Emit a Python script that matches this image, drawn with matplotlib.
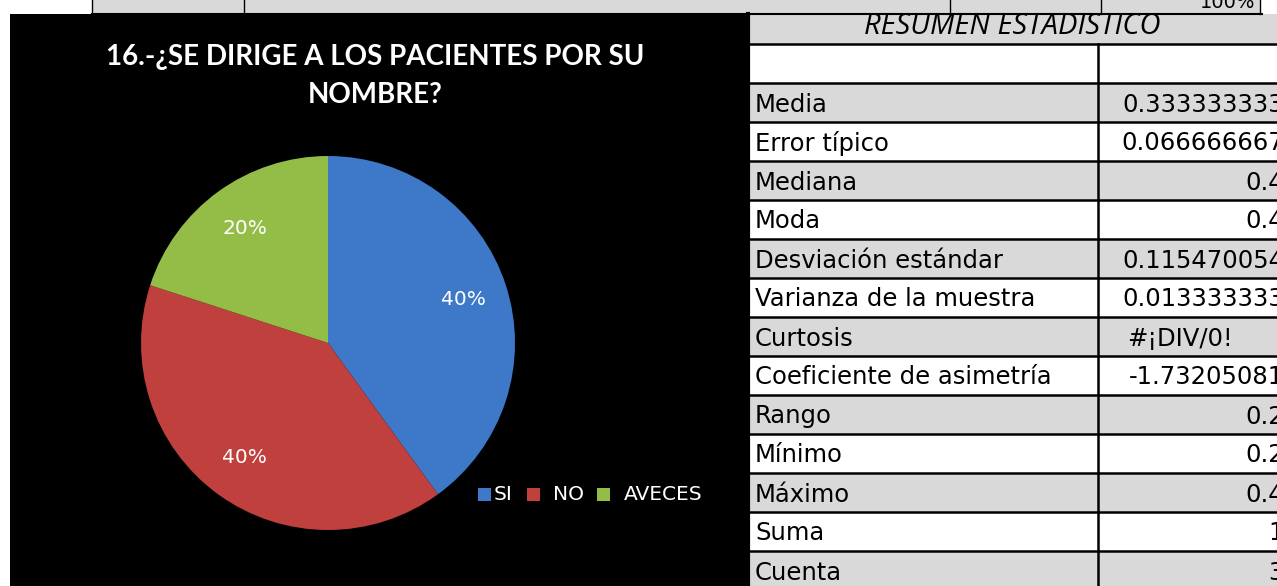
import numpy as np
import matplotlib
matplotlib.use("Agg")
import matplotlib.pyplot as plt
from matplotlib.patches import Rectangle

# data
categorias = ["SI", "NO", "AVECES"]
porcentajes = [40, 40, 20]
colores = ["#3d79c8", "#c0403d", "#93bd47"]

titulo = "16.-¿SE DIRIGE A LOS PACIENTES POR SU\nNOMBRE?"
resumen_titulo = "RESUMEN ESTADISTICO"
estad_nombres = ["", "Media", "Error típico", "Mediana", "Moda", "Desviación estándar",
                 "Varianza de la muestra", "Curtosis", "Coeficiente de asimetría",
                 "Rango", "Mínimo", "Máximo", "Suma", "Cuenta"]
estad_valores = ["", "0.333333333", "0.066666667", "0.4", "0.4", "0.115470054",
                 "0.013333333", "#¡DIV/0!", "-1.73205081", "0.2", "0.2", "0.4", "1", "3"]

W, H = 1277, 586
fig = plt.figure(figsize=(W / 100, H / 100), dpi=100)
fig.patch.set_facecolor("white")

# background axes in pixel coords
bg = fig.add_axes([0, 0, 1, 1])
bg.set_xlim(0, W)
bg.set_ylim(H, 0)
bg.axis("off")

# top strip of the sheet (row above)
bg.add_patch(Rectangle((92, -5), 1168, 19, facecolor="#d9d9d9", edgecolor="none"))
for xv in [92, 244, 950, 1101, 1260]:
    bg.plot([xv, xv], [-5, 14], color="black", lw=1)
bg.plot([92, 1262], [14, 14], color="black", lw=1.5)
bg.text(1255, 3, "100%", ha="right", va="center", fontsize=14, family="DejaVu Sans",
        color="black")

# chart area
bg.add_patch(Rectangle((10, 14), 738, 580, facecolor="black", edgecolor="none"))
bg.text(375, 76, titulo, ha="center", va="center", color="white", fontsize=20,
        fontweight="bold", family="Lato", linespacing=1.6)

# table
row_h = 39
top = 44
col0, col1, col2 = 748, 1098, 1290
tfont = dict(fontsize=17.5, family="DejaVu Sans", color="black")
bg.add_patch(Rectangle((col0, 14), col2 - col0, top - 14, facecolor="#d9d9d9", edgecolor="none"))
bg.text(1012, 27, resumen_titulo, ha="center", va="center", fontsize=21, style="italic",
        family="Open Sans", color="black")
for i, (nom, val) in enumerate(zip(estad_nombres, estad_valores)):
    y0 = top + i * row_h
    fc = "#d9d9d9" if i % 2 == 1 else "white"
    bg.add_patch(Rectangle((col0, y0), col2 - col0, row_h, facecolor=fc, edgecolor="none"))
    bg.plot([col0, col2], [y0, y0], color="black", lw=1.8)
    bg.text(755, y0 + row_h / 2 + 2, nom, ha="left", va="center", **tfont)
    if val.startswith("#"):
        bg.text(1180, y0 + row_h / 2 + 2, val, ha="center", va="center", **tfont)
    else:
        bg.text(1284, y0 + row_h / 2 + 2, val, ha="right", va="center", **tfont)
bg.plot([col1, col1], [top, H], color="black", lw=1.8)
bg.plot([col0, col0], [14, H], color="black", lw=3)

# pie
cx, cy, r = 328, 343, 187
ax = fig.add_axes([(cx - r) / W, (H - cy - r) / H, 2 * r / W, 2 * r / H])
wedges, _ = ax.pie(porcentajes, colors=colores, startangle=90, counterclock=False,
                   radius=1, wedgeprops=dict(linewidth=0))
ax.set_xlim(-1, 1)
ax.set_ylim(-1, 1)
ax.set_aspect("equal")
ax.axis("off")

ang = 90.0
for p, w in zip(porcentajes, wedges):
    mid = np.deg2rad(ang - p * 3.6 / 2)
    ang -= p * 3.6
    ax.text(0.76 * np.cos(mid), 0.76 * np.sin(mid), f"{p}%", ha="center", va="center",
            color="white", fontsize=14.5, family="DejaVu Sans")

# legend
leg_x = [478, 527, 597]
txt_x = [494, 553, 624]
for c, lab, lx, tx in zip(colores, categorias, leg_x, txt_x):
    bg.add_patch(Rectangle((lx, 488), 13, 13, facecolor=c, edgecolor="none"))
    bg.text(tx, 495, lab, ha="left", va="center", color="white", fontsize=14.5,
            family="DejaVu Sans")

fig.savefig("out.png", dpi=100, facecolor=fig.get_facecolor())
